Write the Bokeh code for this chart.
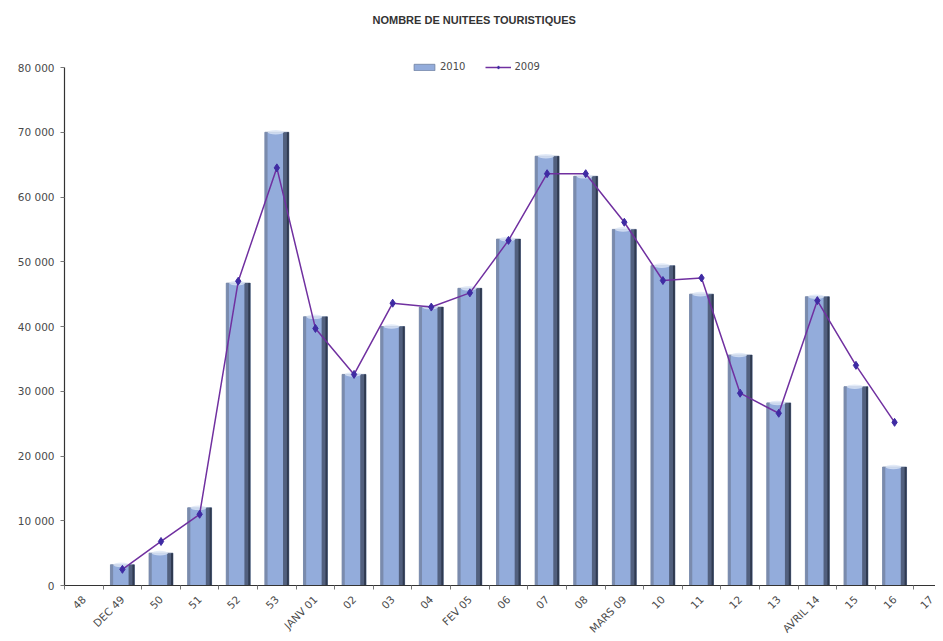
import math
from bokeh.plotting import figure
from bokeh.models import FixedTicker, Range1d, Legend, LegendItem, ColumnDataSource
from bokeh.transform import dodge
from bokeh.embed import file_html
from bokeh.resources import INLINE

# ---------------- data ----------------
categories = ["48", "DEC 49", "50", "51", "52", "53", "JANV 01", "02", "03", "04",
              "FEV 05", "06", "07", "08", "MARS 09", "10", "11", "12", "13",
              "AVRIL 14", "15", "16", "17"]
values_2010 = [None, 3200, 5000, 12000, 46700, 70000, 41500, 32600, 40000, 43000,
               45900, 53500, 66300, 63200, 55000, 49400, 45000, 35600, 28200,
               44600, 30700, 18300, None]
values_2009 = [None, 2500, 6800, 11000, 47000, 64500, 39700, 32600, 43600, 43000,
               45200, 53300, 63600, 63600, 56100, 47100, 47500, 29700, 26600,
               44000, 34000, 25200, None]
y_ticks = [0, 10000, 20000, 30000, 40000, 50000, 60000, 70000, 80000]
y_tick_labels = ["0", "10 000", "20 000", "30 000", "40 000", "50 000",
                 "60 000", "70 000", "80 000"]
title_text = "NOMBRE DE NUITEES TOURISTIQUES"
series_names = ["2010", "2009"]

# ---------------- sources ----------------
idx_b = [i for i, v in enumerate(values_2010) if v is not None]
bar_src = ColumnDataSource(dict(
    x=idx_b,
    top=[values_2010[i] for i in idx_b],
))
idx_l = [i for i, v in enumerate(values_2009) if v is not None]
line_src = ColumnDataSource(dict(
    x=idx_l,
    y=[values_2009[i] for i in idx_l],
))

FONT = "DejaVu Sans"
TXT = "#4a4a4a"
Y_MAX = y_ticks[-1]
FRAME_H = 550
y_end = Y_MAX * FRAME_H / 518.0   # headroom above the last tick for the legend

p = figure(
    frame_width=871, frame_height=FRAME_H,
    min_border_left=64, min_border_right=0, min_border_top=35, min_border_bottom=48,
    x_range=Range1d(-0.5, 22.06), y_range=Range1d(0, y_end),
    output_backend="svg", toolbar_location=None,
)
p.outline_line_color = None
p.grid.grid_line_color = None
p.background_fill_color = "white"
p.border_fill_color = "white"

# title
p.title.text = title_text
p.title.text_font = "Liberation Sans"
p.title.text_font_size = "11px"
p.title.text_font_style = "bold"
p.title.text_color = "#333333"
p.title.align = "left"
p.title.offset = 308
p.title.standoff = 20

# bars: body, left shade, right dark shade, top cap
bw = 0.62
bars = p.vbar(x="x", top="top", bottom=0, width=bw, source=bar_src,
              fill_color="#93ACDB", line_color="#6F80A0", line_width=0.8)
p.vbar(x=dodge("x", -0.275, range=p.x_range), top="top", bottom=0, width=0.07,
       source=bar_src, fill_color="#7A8BAD", line_color=None)
p.vbar(x=dodge("x", 0.235, range=p.x_range), top="top", bottom=0, width=0.15,
       source=bar_src, fill_color="#52607E", line_color=None)
p.vbar(x=dodge("x", 0.285, range=p.x_range), top="top", bottom=0, width=0.05,
       source=bar_src, fill_color="#2F3A50", line_color=None)
p.ellipse(x=dodge("x", -0.03, range=p.x_range), y="top", width=0.42, height=700,
          source=bar_src, fill_color="#DCE6F6", fill_alpha=0.8, line_color=None)

# 2009 line
ln = p.line(x="x", y="y", source=line_src, line_color="#7030A0", line_width=1.5)
mk = p.scatter(x="x", y="y", source=line_src, marker="diamond", size=8,
               fill_color="#3F2BA3", line_color="#3F2BA3")

# axes
p.xaxis.ticker = FixedTicker(ticks=list(range(len(categories))),
                             minor_ticks=[i - 0.5 for i in range(len(categories) + 1)])
p.xaxis.major_label_overrides = {i: c for i, c in enumerate(categories)}
p.xaxis.major_label_orientation = math.pi / 4
p.xaxis.major_tick_out = 0
p.xaxis.major_tick_in = 0
p.xaxis.minor_tick_out = 4
p.xaxis.minor_tick_in = 0
p.xaxis.minor_tick_line_color = "#777777"
p.xaxis.axis_line_color = "#333333"
p.xaxis.axis_line_width = 1.2
p.xaxis.major_label_text_font = FONT
p.xaxis.major_label_text_font_size = "10.5px"
p.xaxis.major_label_text_color = TXT
p.xaxis.major_label_standoff = 8

p.yaxis.ticker = FixedTicker(ticks=y_ticks, minor_ticks=[])
p.yaxis.major_label_overrides = {t: l for t, l in zip(y_ticks, y_tick_labels)}
p.yaxis.bounds = (0, Y_MAX)
p.yaxis.major_tick_out = 4
p.yaxis.major_tick_in = 0
p.yaxis.major_tick_line_color = "#777777"
p.yaxis.minor_tick_line_color = None
p.yaxis.axis_line_color = "#333333"
p.yaxis.axis_line_width = 1.2
p.yaxis.major_label_text_font = FONT
p.yaxis.major_label_text_font_size = "10.5px"
p.yaxis.major_label_text_color = TXT
p.yaxis.major_label_standoff = 6

# legend
legend = Legend(items=[LegendItem(label=series_names[0], renderers=[bars]),
                       LegendItem(label=series_names[1], renderers=[ln, mk])],
                orientation="horizontal", location=(347, 513),
                background_fill_alpha=0, border_line_color=None,
                label_text_font=FONT, label_text_font_size="10px",
                label_text_color=TXT, glyph_width=26, glyph_height=8,
                spacing=20, padding=4, label_standoff=3)
p.add_layout(legend, "center")

open("out.html", "w").write(file_html(p, INLINE))
